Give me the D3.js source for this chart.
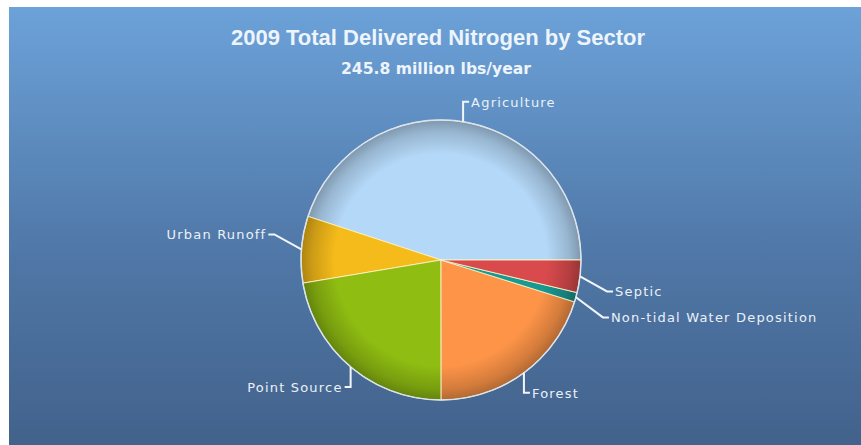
<!DOCTYPE html>
<html>
<head>
<meta charset="utf-8">
<script src="https://cdn.jsdelivr.net/npm/d3@7"></script>
<style>
  html, body { margin: 0; padding: 0; background: #ffffff; }
  svg { display: block; }
</style>
</head>
<body>
<svg id="chart" width="861" height="445"></svg>
<script>
// Delivered nitrogen by sector, 2009 (million lbs/year)
const sectors = ["Agriculture", "Urban Runoff", "Point Source", "Forest", "Non-tidal Water Deposition", "Septic"];
const loads   = [110.5, 18.9, 55.0, 49.5, 2.7, 9.2];
const sliceColors = ["#b4d8f8", "#f5bb1a", "#8fbd12", "#fd9448", "#1a9892", "#d84a4c"];
const titleText = "2009 Total Delivered Nitrogen by Sector";
const subtitleText = "245.8 million lbs/year";

const W = 861, H = 445;
const cx = 441, cy = 260, R = 140;

const svg = d3.select("#chart");
const defs = svg.append("defs");

// Panel background
const bg = defs.append("linearGradient").attr("id", "bg").attr("x1", 0).attr("y1", 0).attr("x2", 0).attr("y2", 1);
bg.append("stop").attr("offset", "0%").attr("stop-color", "#6ca2d9");
bg.append("stop").attr("offset", "55%").attr("stop-color", "#5078a8");
bg.append("stop").attr("offset", "100%").attr("stop-color", "#42628b");
svg.append("rect").attr("x", 9).attr("y", 7).attr("width", W - 9).attr("height", H - 7).attr("fill", "url(#bg)");

// Titles
svg.append("text").attr("x", 438).attr("y", 45).attr("text-anchor", "middle")
  .attr("font-family", "'Liberation Sans', Arial, sans-serif").attr("font-weight", "bold")
  .attr("font-size", 22).attr("fill", "#eef4fb").text(titleText);
svg.append("text").attr("x", 436).attr("y", 74).attr("text-anchor", "middle")
  .attr("font-family", "'DejaVu Sans', Verdana, sans-serif").attr("font-weight", "bold")
  .attr("font-size", 15.6).attr("fill", "#eef4fb").text(subtitleText);

// Slices run anticlockwise from three o'clock
const data = sectors.map((s, i) => ({ name: s, value: loads[i], color: sliceColors[i] }));
const pie = d3.pie().value(d => d.value).sort(null)
  .startAngle(Math.PI / 2).endAngle(Math.PI / 2 - 2 * Math.PI);
const arcs = pie(data);
const arc = d3.arc().innerRadius(0).outerRadius(R);

// Rim shading per slice, centred on the pie
arcs.forEach((a, i) => {
  const c = d3.color(a.data.color);
  const g = defs.append("radialGradient").attr("id", "sg" + i)
    .attr("gradientUnits", "userSpaceOnUse").attr("cx", 0).attr("cy", 0).attr("r", R);
  g.append("stop").attr("offset", "0%").attr("stop-color", c.formatHex());
  g.append("stop").attr("offset", "76%").attr("stop-color", c.formatHex());
  g.append("stop").attr("offset", "92%").attr("stop-color", c.darker(0.5).formatHex());
  g.append("stop").attr("offset", "100%").attr("stop-color", c.darker(1.0).formatHex());
});

const pieG = svg.append("g").attr("transform", `translate(${cx},${cy})`);
pieG.selectAll("path.slice").data(arcs).join("path")
  .attr("class", "slice")
  .attr("d", arc)
  .attr("fill", (d, i) => `url(#sg${i})`)
  .attr("stroke", "rgba(255,246,200,0.85)")
  .attr("stroke-width", 1);

pieG.append("circle").attr("r", R).attr("fill", "none")
  .attr("stroke", "#d9e3ee").attr("stroke-width", 1.5);

// Smart labels with elbow leader lines
const labels = arcs.map(a => {
  const t = (a.startAngle + a.endAngle) / 2;
  const sx = Math.sin(t), sy = -Math.cos(t);
  const ax = cx + sx * R, ay = cy + sy * R;
  const side = sx >= 0 ? 1 : -1;
  const vertical = Math.abs(sy) > 0.6;
  let ex, ey;
  if (vertical) { ex = ax; ey = ay + (sy > 0 ? 1 : -1) * 20; }
  else { ex = ax + side * 27; ey = ay + (sy >= 0 ? 1 : -1) * 15; }
  return { name: a.data.name, ax, ay, ex, ey, side, vertical };
});
// keep side labels apart
[1, -1].forEach(s => {
  const grp = labels.filter(l => l.side === s && !l.vertical).sort((a, b) => a.ey - b.ey);
  for (let i = 1; i < grp.length; i++) {
    if (grp[i].ey - grp[i - 1].ey < 26) grp[i].ey = grp[i - 1].ey + 26;
  }
});

const lab = svg.append("g");
labels.forEach(l => {
  const tx = l.ex + l.side * 6;
  lab.append("path")
    .attr("d", `M${l.ax},${l.ay}L${l.ex},${l.ey}L${tx},${l.ey}`)
    .attr("fill", "none").attr("stroke", "#f2f6fa").attr("stroke-width", 2)
    .attr("stroke-linejoin", "miter");
  lab.append("text")
    .attr("x", tx + l.side * 2).attr("y", l.ey + 5)
    .attr("text-anchor", l.side > 0 ? "start" : "end")
    .attr("font-family", "'DejaVu Sans', Verdana, sans-serif")
    .attr("font-size", 13).attr("letter-spacing", 1.2)
    .attr("fill", "#eaf1f8").text(l.name);
});
</script>
</body>
</html>
